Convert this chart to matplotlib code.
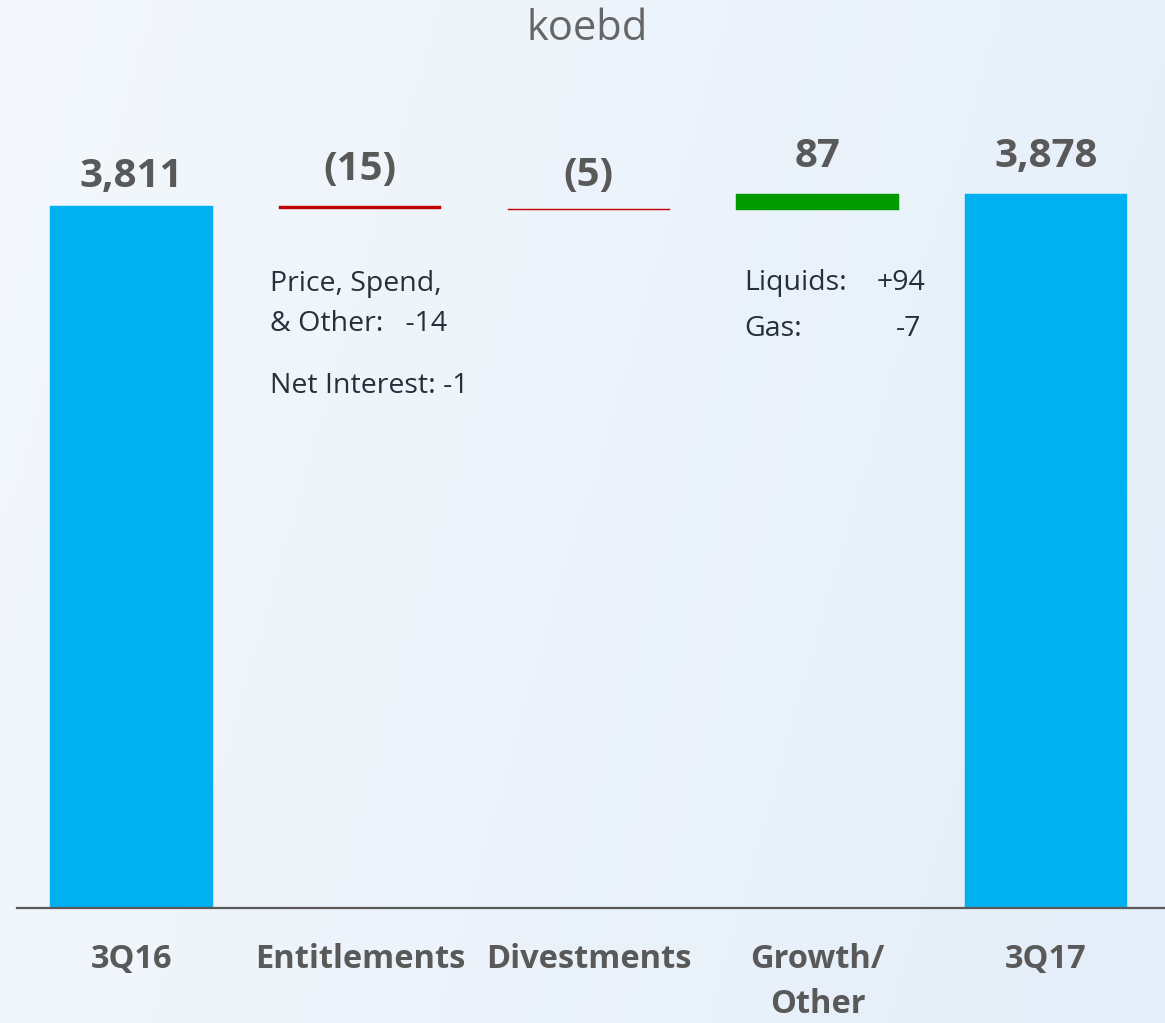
import numpy as np
import matplotlib
matplotlib.use("Agg")
import matplotlib.pyplot as plt
from matplotlib.colors import LinearSegmentedColormap

# data
categories = ["3Q16", "Entitlements", "Divestments", "Growth/\nOther", "3Q17"]
values = [3811, -15, -5, 87, 3878]
value_labels = ["3,811", "(15)", "(5)", "87", "3,878"]
kinds = ["total", "delta", "delta", "delta", "total"]

ent_notes = ["Price, Spend,", "& Other:   -14", "Net Interest: -1"]
growth_notes = [("Liquids:", "+94"), ("Gas:", "-7")]

BLUE = "#00b0f0"
RED = "#c00000"
GREEN = "#009900"
GRAY = "#595959"
DARK = "#262f3a"

plt.rcParams["font.family"] = ["Open Sans", "DejaVu Sans"]

W, H = 1165, 1023
fig = plt.figure(figsize=(W / 100, H / 100), dpi=100)

# gradient background
bg = fig.add_axes([0, 0, 1, 1], zorder=-10)
gx = np.linspace(0, 1, 256)
gy = np.linspace(0, 1, 64)
grad = gx[None, :] * 0.8 + gy[:, None] * 0.2
cmap = LinearSegmentedColormap.from_list("bg", ["#f4f8fc", "#e4eef8"])
bg.imshow(grad, cmap=cmap, aspect="auto", extent=[0, 1, 0, 1])
bg.axis("off")

ax = fig.add_axes([17 / W, 115 / H, 1148 / W, 908 / H])
ax.patch.set_alpha(0)

# waterfall bottoms/heights
bottoms, heights, colors = [], [], []
running = 0
for v, k in zip(values, kinds):
    if k == "total":
        bottoms.append(0)
        heights.append(v)
        colors.append(BLUE)
        running = v
    else:
        lo = running + min(v, 0)
        bottoms.append(lo)
        heights.append(abs(v))
        colors.append(GREEN if v > 0 else RED)
        running += v

x = np.arange(len(categories))
ax.bar(x, heights, bottom=bottoms, width=0.71, color=colors,
       edgecolor=colors, linewidth=0.3, zorder=2)

ax.set_xlim(-0.501, 4.52)
ax.set_ylim(0, 4929)

# value labels above each bar
label_offsets = [7, 12, 10, 13, 13]
for xi, b, h, lab, off in zip(x, bottoms, heights, value_labels, label_offsets):
    ax.annotate(lab, (xi, b + h), xytext=(0, off), textcoords="offset points",
                ha="center", va="bottom", fontsize=29, fontweight="bold", color=GRAY)

# annotations under Entitlements
note_kw = dict(textcoords="offset points", ha="left", va="baseline",
               fontsize=20.5, color=DARK)
ax.annotate(ent_notes[0], (1, bottoms[1]), xytext=(-65, -59), **note_kw)
ax.annotate(ent_notes[1], (1, bottoms[1]), xytext=(-65, -88), **note_kw)
ax.annotate(ent_notes[2], (1, bottoms[1]), xytext=(-65, -133), **note_kw)

# annotations under Growth/Other
for i, (name, val) in enumerate(growth_notes):
    ax.annotate(name, (3, bottoms[3]), xytext=(-53, -58 - i * 33), **note_kw)
    ax.annotate(val, (3, bottoms[3]), xytext=(78 - i * 3, -58 - i * 33),
                textcoords="offset points", ha="right", va="baseline",
                fontsize=20.5, color=DARK)

# title
fig.text(587 / W, 1 - 29 / H, "koebd", ha="center", va="center", fontsize=30, color="#666666")

# axes styling
for s in ["top", "right", "left"]:
    ax.spines[s].set_visible(False)
ax.spines["bottom"].set_color(GRAY)
ax.spines["bottom"].set_linewidth(1.6)
ax.set_yticks([])
ax.set_xticks(x)
ax.set_xticklabels(categories, fontsize=23.5, fontweight="bold", color=GRAY, linespacing=1.5)
ax.tick_params(axis="x", length=0, pad=25)

fig.savefig("out.png", dpi=100)
